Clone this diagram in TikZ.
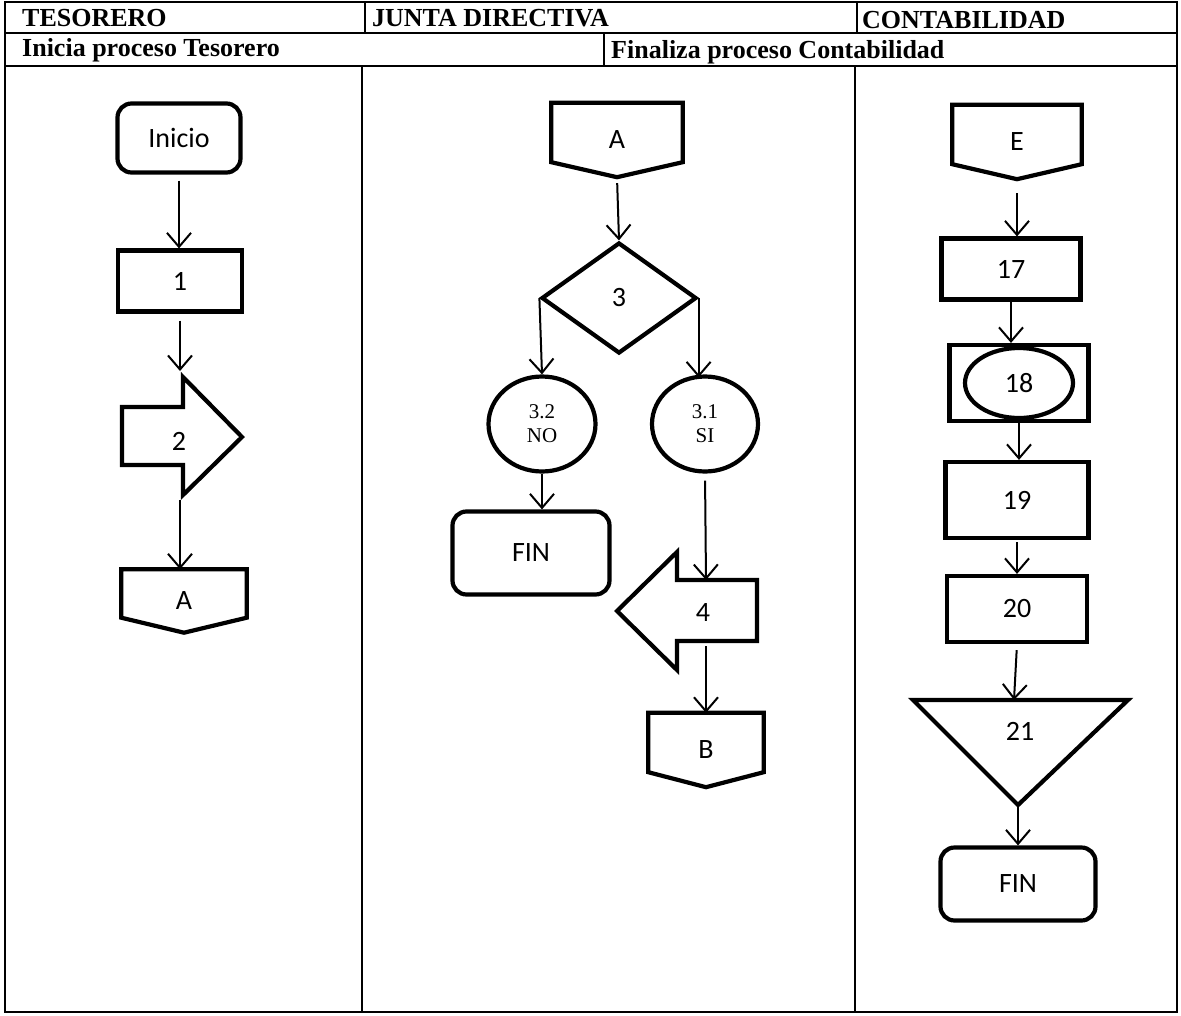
\documentclass[tikz,border=0pt]{standalone}
\usepackage{fontspec}
\setmainfont{Carlito}
\newfontfamily\tnr{Liberation Serif}
\usetikzlibrary{positioning,shapes.geometric,arrows.meta}

\begin{document}
\begin{tikzpicture}[x=1pt,y=-1pt,>={Straight Barb[length=14pt,width=24pt]},
  every node/.style={font=\fontsize{28}{32}\selectfont},
  shp/.style={draw,line width=4.2pt},
  box/.style={shp,rectangle,inner sep=0pt},
  rbox/.style={box,rounded corners=14pt},
  circ/.style={shp,ellipse,inner sep=0pt,align=center,font=\tnr\fontsize{21}{24}\selectfont},
  opg/.style={inner sep=0pt},
  lnk/.style={->,line width=2pt},
  hd/.style={anchor=west,inner sep=0pt,font=\tnr\bfseries\fontsize{26}{28}\selectfont},
  tbl/.style={line width=1.5pt}]
  \useasboundingbox (0,0) rectangle (1181,1015);
  % table
  \draw[tbl] (5,2) rectangle (1177,1012);
  \draw[tbl] (5,33) -- (1177,33) (5,66) -- (1177,66);
  \draw[tbl] (365,2) -- (365,33) (857,2) -- (857,33) (604,33) -- (604,66)
    (362,66) -- (362,1012) (855,66) -- (855,1012);
  \node[hd] (h1) at (22,18) {TESORERO};
  \node[hd] (h2) at (372,18) {JUNTA DIRECTIVA};
  \node[hd] (h3) at (862,20) {CONTABILIDAD};
  \node[hd] (h4) at (22,50) {Inicia proceso Tesorero};
  \node[hd] (h5) at (611,52) {Finaliza proceso Contabilidad};

  % tesorero
  \node[rbox,minimum width=123pt,minimum height=69pt] (ini) at (179,138) {Inicio};
  \node[box,minimum width=124pt,minimum height=61pt] (t1) at (180,281) {1};
  \draw[shp] (122,407) -- (183,407) -- (183,377) -- (242,437) -- (183,495)
    -- (183,465) -- (122,465) -- cycle;
  \node (t2) at (179,441) {2};
  \coordinate (t2t) at (180,371); \coordinate (t2b) at (180,500);
  \node[opg,minimum width=125pt,minimum height=63pt] (ta) at (184,601) {A};

  % junta directiva
  \node[opg,minimum width=131pt,minimum height=74pt] (ja) at (617,140) {A};
  \node[shp,diamond,inner sep=0pt,minimum width=155pt,minimum height=111pt] (d3) at (619,298) {3};
  \node[circ,minimum width=107pt,minimum height=95pt] (no) at (542,424) {3.2\\NO};
  \node[circ,minimum width=106pt,minimum height=95pt] (si) at (705,424) {3.1\\SI};
  \node[rbox,minimum width=157pt,minimum height=83pt] (jfin) at (531,553) {FIN};
  \draw[shp] (757,580) -- (677,580) -- (677,552) -- (617,611) -- (677,670)
    -- (677,641) -- (757,641) -- cycle;
  \node (j4) at (703,613) {4};
  \coordinate (j4t) at (706,580); \coordinate (j4b) at (706,646);
  \node[opg,minimum width=115pt,minimum height=74pt] (jb) at (706,750) {B};

  % contabilidad
  \node[opg,minimum width=129pt,minimum height=74pt] (ce) at (1017,142) {E};
  \node[box,minimum width=139pt,minimum height=61pt] (c17) at (1011,269) {17};
  \node[box,minimum width=139pt,minimum height=76pt] (c18) at (1019,383) {};
  \node[shp,ellipse,inner sep=0pt,minimum width=108pt,minimum height=70pt] (e18) at (1019,383) {18};
  \node[box,minimum width=143pt,minimum height=76pt] (c19) at (1017,500) {19};
  \node[box,minimum width=140pt,minimum height=66pt] (c20) at (1017,609) {20};
  \draw[shp] (913,700) -- (1128,700) -- (1018,805) -- cycle;
  \node (c21) at (1020,731) {21};
  \coordinate (c21t) at (1014,700); \coordinate (c21b) at (1018,805);
  \node[rbox,minimum width=155pt,minimum height=73pt] (cfin) at (1018,884) {FIN};

  \foreach \n in {ta,ja,jb,ce}
    \draw[shp] (\n.north west) -- (\n.north east) -- ([yshift=15pt]\n.south east)
      -- (\n.south) -- ([yshift=15pt]\n.south west) -- cycle;

  % connectors
  \path (ini.south) edge[lnk,shorten <=6pt] (ini.south |- t1.north);
  \path (t1.south) edge[lnk,shorten <=7pt] (t2t);
  \path (t2b) edge[lnk] (t2b |- ta.north);
  \path (ja.south) edge[lnk,shorten <=6pt] (d3.north);
  \path (d3.west) edge[lnk] (no.north);
  \path (d3.east) edge[lnk] ([yshift=-3pt]d3.east |- si.north);
  \path (no.south) edge[lnk] (no.south |- jfin.north);
  \path (si.south) edge[lnk,shorten <=7pt] (j4t);
  \path (j4b) edge[lnk] (j4b |- jb.north);
  \path (ce.south) edge[lnk,shorten <=14pt] (ce.south |- c17.north);
  \path (c17.south) edge[lnk] (c17.south |- c18.north);
  \path (e18.south) edge[lnk,shorten <=3pt] (e18.south |- c19.north);
  \path (c19.south) edge[lnk,shorten <=2pt] (c19.south |- c20.north);
  \path (c20.south) edge[lnk,shorten <=6pt] (c21t);
  \path (c21b) edge[lnk] (c21b |- cfin.north);
\end{tikzpicture}
\end{document}
